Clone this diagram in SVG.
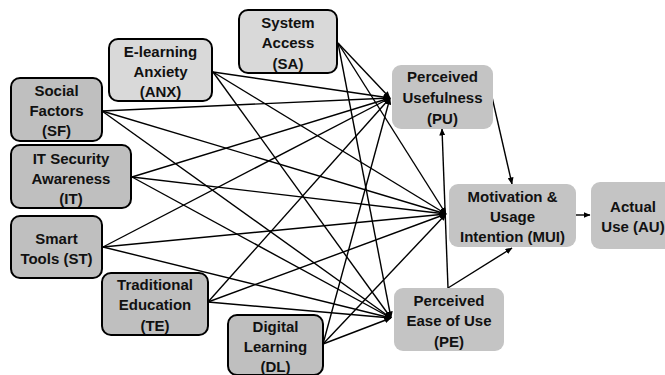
<svg xmlns="http://www.w3.org/2000/svg" width="665" height="375" viewBox="0 0 665 375">
<defs>
<marker id="ah" markerWidth="7" markerHeight="6" refX="6.5" refY="3" orient="auto" markerUnits="userSpaceOnUse">
<path d="M0,0 L7,3 L0,6 Z" fill="#000"/>
</marker>
<style>
.lt{fill:#d9d9d9;stroke:#000;stroke-width:2}
.dk{fill:#bfbfbf;stroke:#000;stroke-width:2}
.rt{fill:#c4c4c4;stroke:none}
text{font-family:"Liberation Sans",Arial,sans-serif;font-weight:bold;font-size:15px;text-anchor:middle;fill:#111}
.c line{stroke:#000;stroke-width:1.4;marker-end:url(#ah)}
</style>
</defs>
<rect width="665" height="375" fill="#fff"/>
<g class="c" id="connectors">
<line x1="338" y1="43" x2="390" y2="98"/>
<line x1="338" y1="43" x2="446" y2="214"/>
<line x1="338" y1="43" x2="391" y2="318"/>
<line x1="213" y1="72" x2="390" y2="98"/>
<line x1="213" y1="72" x2="446" y2="214"/>
<line x1="213" y1="72" x2="391" y2="318"/>
<line x1="102" y1="111" x2="390" y2="98"/>
<line x1="102" y1="111" x2="446" y2="214"/>
<line x1="102" y1="111" x2="391" y2="318"/>
<line x1="132" y1="177" x2="390" y2="98"/>
<line x1="132" y1="177" x2="446" y2="214"/>
<line x1="132" y1="177" x2="391" y2="318"/>
<line x1="103" y1="247" x2="390" y2="98"/>
<line x1="103" y1="247" x2="446" y2="214"/>
<line x1="103" y1="247" x2="391" y2="318"/>
<line x1="208" y1="302" x2="390" y2="98"/>
<line x1="208" y1="302" x2="446" y2="214"/>
<line x1="208" y1="302" x2="391" y2="318"/>
<line x1="323" y1="344" x2="390" y2="98"/>
<line x1="323" y1="344" x2="446" y2="214"/>
<line x1="323" y1="344" x2="391" y2="318"/>
<line x1="492" y1="97" x2="512" y2="184"/>
<line x1="448" y1="288" x2="442" y2="129"/>
<line x1="448" y1="288" x2="512" y2="248"/>
<line x1="576" y1="215" x2="590" y2="215"/>
</g>
<g id="SA"><rect class="lt" x="239" y="10" width="98" height="63" rx="9"/><text x="288" y="28">System</text><text x="288" y="48">Access</text><text x="288" y="69">(SA)</text></g>
<g id="ANX"><rect class="lt" x="109" y="39" width="103" height="62" rx="9"/><text x="160.5" y="57">E-learning</text><text x="160.5" y="77">Anxiety</text><text x="160.5" y="97">(ANX)</text></g>
<g id="SF"><rect class="dk" x="11" y="78" width="91" height="63" rx="9"/><text x="56.5" y="95.5">Social</text><text x="56.5" y="115.5">Factors</text><text x="56.5" y="136">(SF)</text></g>
<g id="IT"><rect class="dk" x="11" y="145" width="120" height="63" rx="9"/><text x="71" y="164">IT Security</text><text x="71" y="184">Awareness</text><text x="71" y="204">(IT)</text></g>
<g id="ST"><rect class="dk" x="11" y="216" width="91" height="62" rx="9"/><text x="56.5" y="243.5">Smart</text><text x="56.5" y="263.5">Tools (ST)</text></g>
<g id="TE"><rect class="dk" x="102" y="273" width="106" height="62" rx="9"/><text x="155" y="290">Traditional</text><text x="155" y="310">Education</text><text x="155" y="330.5">(TE)</text></g>
<g id="DL"><rect class="dk" x="228" y="315" width="95" height="60" rx="9"/><text x="275.5" y="332">Digital</text><text x="275.5" y="352">Learning</text><text x="275.5" y="372">(DL)</text></g>
<g id="PU"><rect class="rt" x="392" y="65" width="101" height="64" rx="9"/><text x="442.5" y="82">Perceived</text><text x="442.5" y="103">Usefulness</text><text x="442.5" y="124">(PU)</text></g>
<g id="MUI"><rect class="rt" x="449" y="184" width="127" height="63" rx="9"/><text x="512.5" y="202">Motivation &amp;</text><text x="512.5" y="221.5">Usage</text><text x="512.5" y="241.5">Intention (MUI)</text></g>
<g id="AU"><rect class="rt" x="591" y="182" width="85" height="67" rx="9"/><text x="633" y="212">Actual</text><text x="633" y="231.5">Use (AU)</text></g>
<g id="PE"><rect class="rt" x="394" y="288" width="110" height="63" rx="9"/><text x="449" y="305.5">Perceived</text><text x="449" y="325.5">Ease of Use</text><text x="449" y="346.5">(PE)</text></g>
</svg>
